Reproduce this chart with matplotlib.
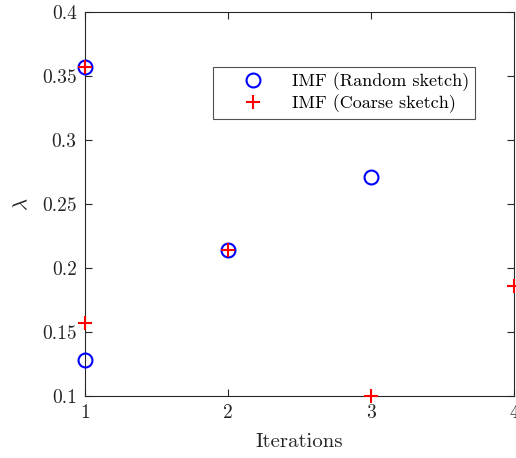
import matplotlib
matplotlib.use("Agg")
import matplotlib.pyplot as plt

plt.rcParams['font.family'] = 'serif'
plt.rcParams['font.serif'] = ['cmr10']
plt.rcParams['mathtext.fontset'] = 'cm'
plt.rcParams['axes.formatter.use_mathtext'] = False

random_x = [1, 1, 2, 3]
random_y = [0.357, 0.128, 0.214, 0.271]
coarse_x = [1, 1, 2, 3, 4]
coarse_y = [0.357, 0.157, 0.214, 0.100, 0.186]
xticks = [1, 2, 3, 4]
yticks = [0.1, 0.15, 0.2, 0.25, 0.3, 0.35, 0.4]
ytick_labels = ['0.1', '0.15', '0.2', '0.25', '0.3', '0.35', '0.4']

fig = plt.figure(figsize=(5.16, 4.58), dpi=100)
ax = fig.add_axes([85/516, 1-396/458, 429/516, 384/458])
ax.plot(random_x, random_y, 'o', mfc='none', mec='blue', ms=10, mew=1.5,
        label='IMF (Random sketch)', clip_on=False, zorder=3)
ax.plot(coarse_x, coarse_y, '+', color='red', ms=10, mew=1.5,
        label='IMF (Coarse sketch)', clip_on=False, zorder=4)
ax.set_xlim(1, 4)
ax.set_ylim(0.1, 0.4)
ax.set_xticks(xticks)
ax.set_xticklabels([str(v) for v in xticks])
ax.set_yticks(yticks)
ax.set_yticklabels(ytick_labels)
ax.tick_params(direction='in', length=5, width=0.8, labelsize=14, colors='#262626',
               top=True, right=True, pad=6)
for s in ax.spines.values():
    s.set_color('#262626')
    s.set_linewidth(0.8)
ax.set_xlabel('Iterations', fontsize=15, color='#262626', labelpad=8)
ax.set_ylabel(r'$\lambda$', fontsize=15, color='#262626', labelpad=8)
leg = ax.legend(loc='upper left', bbox_to_anchor=((213-85)/429, (396-67)/384),
                fontsize=13, frameon=True, fancybox=False, edgecolor='#262626',
                borderpad=0.3, handletextpad=0.3, labelspacing=0.2, borderaxespad=0,
                handlelength=3.8)
leg.get_frame().set_linewidth(0.8)
fig.savefig('out.png', dpi=100)
